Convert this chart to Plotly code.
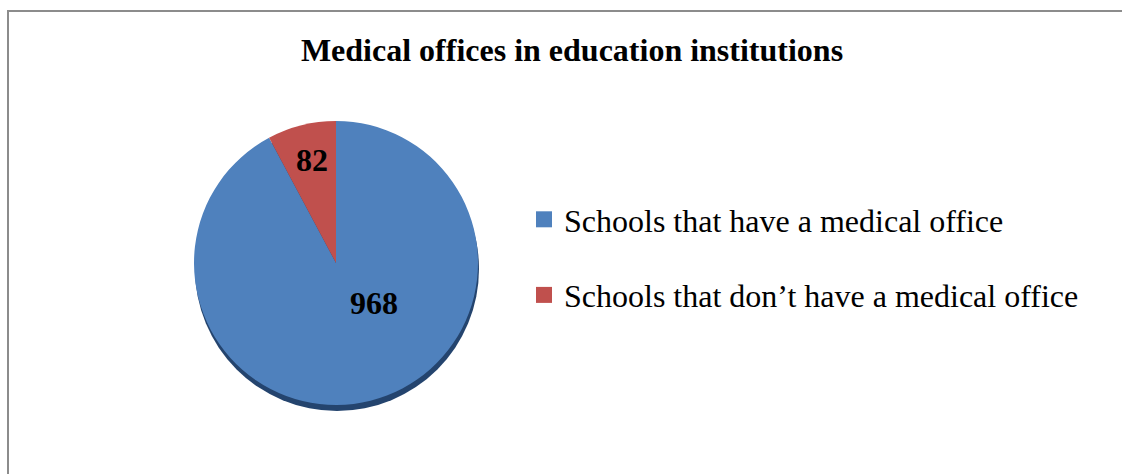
import plotly.graph_objects as go

# Survey counts of schools by whether they have a medical office
categories = ["Schools that have a medical office", "Schools that don\u2019t have a medical office"]
counts = [968, 82]
colors = ["#4F81BD", "#C0504D"]
title_text = "Medical offices in education institutions"

W, H = 1122, 474
FONT = "Liberation Serif, Times New Roman, serif"

# pie centre / radius in pixels, converted to paper fractions
cx, cy, r = 336, 263, 142
px = lambda v: v / W
py = lambda v: 1 - v / H

fig = go.Figure()

fig.add_trace(go.Pie(
    labels=categories,
    values=counts,
    sort=False,
    direction="clockwise",
    rotation=0,
    marker=dict(colors=colors, line=dict(width=0)),
    textinfo="none",
    hoverinfo="label+value",
    showlegend=False,
    domain=dict(x=[px(cx - r), px(cx + r)], y=[py(cy + r), py(cy - r)]),
))

# legend entries, one group each so the rows can be spaced apart
for i, (name, col) in enumerate(zip(categories, colors)):
    fig.add_trace(go.Scatter(
        x=[None], y=[None], mode="markers", name=name,
        legendgroup=f"g{i}",
        marker=dict(symbol="square", size=16, color=col),
        hoverinfo="skip",
    ))

# value labels on the slices
label_pos = [(374, 303), (312, 160)]
for val, (lx, ly) in zip(counts, label_pos):
    fig.add_annotation(
        x=px(lx), y=py(ly), xref="paper", yref="paper",
        text=f"<b>{val}</b>", showarrow=False,
        xanchor="center", yanchor="middle",
        font=dict(family=FONT, size=32, color="black"),
    )

# chart frame and the pie's drop shadow
fig.add_shape(type="rect", xref="paper", yref="paper",
              x0=px(8), x1=px(W + 20), y0=py(H + 20), y1=py(11),
              line=dict(color="#8c8c8c", width=2), fillcolor="rgba(0,0,0,0)",
              layer="below")
fig.add_shape(type="circle", xref="paper", yref="paper",
              x0=px(cx - r + 1), x1=px(cx + r + 1), y0=py(cy + r + 6), y1=py(cy - r + 6),
              line=dict(width=0), fillcolor="#24446e", layer="below")

fig.update_layout(
    width=W, height=H,
    margin=dict(l=0, r=0, t=0, b=0),
    paper_bgcolor="white", plot_bgcolor="white",
    title=dict(text=f"<b>{title_text}</b>", x=px(572), xanchor="center",
               y=py(50), yanchor="middle", yref="paper",
               font=dict(family=FONT, size=32, color="black")),
    xaxis=dict(visible=False), yaxis=dict(visible=False),
    legend=dict(x=px(524), xanchor="left", y=py(192), yanchor="top",
                font=dict(family=FONT, size=32, color="black"),
                tracegroupgap=31, traceorder="grouped",
                bgcolor="rgba(0,0,0,0)"),
)

fig.write_html("out.html")
